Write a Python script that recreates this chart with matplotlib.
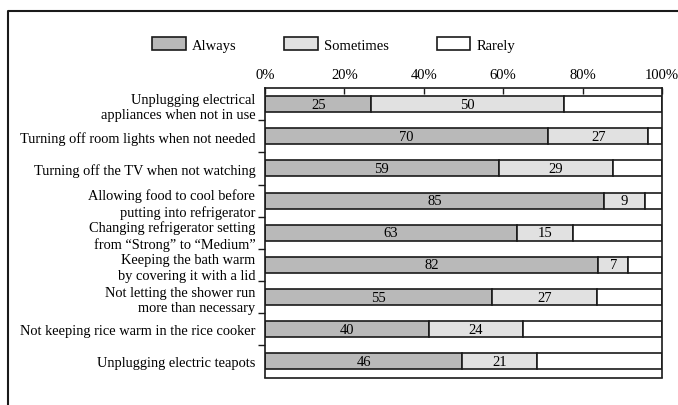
import matplotlib.pyplot as plt
import numpy as np
from matplotlib.lines import Line2D

plt.rcParams['font.family'] = ['Liberation Serif', 'DejaVu Serif']

# Survey items (top to bottom)
items = ['Unplugging electrical\nappliances when not in use',
         'Turning off room lights when not needed',
         'Turning off the TV when not watching',
         'Allowing food to cool before\nputting into refrigerator',
         'Changing refrigerator setting\nfrom \u201cStrong\u201d to \u201cMedium\u201d',
         'Keeping the bath warm\nby covering it with a lid',
         'Not letting the shower run\nmore than necessary',
         'Not keeping rice warm in the rice cooker',
         'Unplugging electric teapots']

# Numbers printed in the bars
always_labels = [25, 70, 59, 85, 63, 82, 55, 40, 46]
sometimes_labels = [50, 27, 29, 9, 15, 7, 27, 24, 21]

# Segment lengths as drawn in the picture (% of bar)
always_w = [26.8, 71.4, 58.9, 85.3, 63.5, 84.0, 57.3, 41.2, 49.7]
sometimes_w = [48.4, 25.1, 28.7, 10.3, 14.0, 7.5, 26.4, 23.7, 18.9]
rarely_w = [100 - a - s for a, s in zip(always_w, sometimes_w)]

fig = plt.figure(figsize=(6.78, 4.06), dpi=100)
ax = fig.add_axes([265 / 678, 1 - 378.5 / 406, 397 / 678, 289.5 / 406])

y = np.arange(len(items))
edge = dict(edgecolor='#1a1a1a', linewidth=1.2, height=0.5)
b1 = ax.barh(y, always_w, color='#b9b9b9', label='Always', **edge)
b2 = ax.barh(y, sometimes_w, left=always_w, color='#e1e1e1',
             label='Sometimes', **edge)
left3 = [a + s for a, s in zip(always_w, sometimes_w)]
b3 = ax.barh(y, rarely_w, left=left3, color='white', label='Rarely', **edge)

ax.bar_label(b1, labels=[str(v) for v in always_labels], label_type='center',
             fontsize=10.5)
ax.bar_label(b2, labels=[str(v) for v in sometimes_labels],
             label_type='center', fontsize=10.5)

ax.set_xlim(0, 100)
ax.set_ylim(len(items) - 0.5, -0.5)
ax.xaxis.tick_top()
ax.set_xticks([0, 20, 40, 60, 80, 100])
ax.set_xticklabels(['0%', '20%', '40%', '60%', '80%', '100%'])
ax.tick_params(axis='x', direction='in', length=4, width=1, pad=5,
               labelsize=10.5, color='#1a1a1a')

ax.set_yticks(y)
ax.set_yticklabels(items, fontsize=10.4, linespacing=1.25)
ax.set_yticks(np.arange(0.5, len(items) - 1, 1), minor=True)
ax.tick_params(axis='y', which='major', length=0, pad=7)
ax.tick_params(axis='y', which='minor', length=5, width=1, color='#1a1a1a')

for s in ax.spines.values():
    s.set_linewidth(1.2)
    s.set_color('#1a1a1a')

fig.legend(handles=[b1, b2, b3], loc='center', ncol=3, frameon=False,
           bbox_to_anchor=(0.492, 0.888), fontsize=10.5, handlelength=2.3,
           handleheight=0.95, handletextpad=0.4, columnspacing=3.3)

# outer frame (left and top edges)
fig.add_artist(Line2D([7.5 / 678, 7.5 / 678, 1], [0, 1 - 11.7 / 406, 1 - 11.7 / 406],
                      transform=fig.transFigure, color='#1a1a1a', linewidth=1.5))

fig.savefig('out.png', dpi=100)
